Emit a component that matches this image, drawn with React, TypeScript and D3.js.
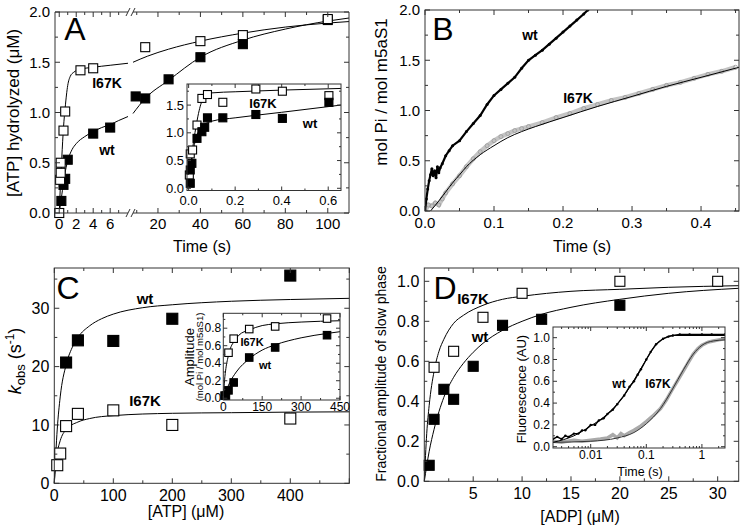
import React from "react";
import * as d3 from "d3";

const FONT = "'Liberation Sans', Arial, Helvetica, sans-serif";
const AX = "#333";

// ---------------- Panel A (main) ----------------
const aI67KTime = [0, 0.1, 0.17, 0.17, 0.5, 0.7, 2.5, 4, 14, 40, 60, 100];
const aI67KVal = [0, 0.33, 0.4, 0.5, 0.82, 1.01, 1.42, 1.44, 1.65, 1.71, 1.77, 1.93];
const aWtTime = [0.25, 0.5, 0.7, 1, 4, 6, 9.5, 14, 25, 40, 60, 100];
const aWtVal = [0.12, 0.28, 0.34, 0.53, 0.79, 0.85, 1.16, 1.14, 1.33, 1.55, 1.68, 1.92];
const aFitI67KEarly = [[0, 0], [0.15, 0.3], [0.3, 0.55], [0.5, 0.85], [0.7, 1.05], [1, 1.27], [1.3, 1.36], [1.7, 1.40], [2.5, 1.43], [4, 1.45], [6, 1.47], [8.1, 1.49]];
const aFitI67KLate = [[8.24, 1.5], [15, 1.56], [25, 1.63], [40, 1.71], [60, 1.79], [80, 1.85], [100, 1.89], [110, 1.905]];
const aFitWtEarly = [[0, 0], [0.3, 0.18], [0.6, 0.36], [1, 0.52], [1.5, 0.63], [2, 0.69], [3, 0.76], [4, 0.81], [5, 0.85], [6, 0.88], [7, 0.92], [8.1, 0.96]];
const aFitWtLate = [[8.24, 0.99], [14, 1.14], [25, 1.32], [40, 1.55], [60, 1.72], [80, 1.83], [100, 1.91], [110, 1.94]];

// Panel A inset
const aiI67KTime = [0.003, 0.007, 0.017, 0.036, 0.057, 0.081, 0.147, 0.289, 0.403, 0.603];
const aiI67KVal = [0.24, 0.62, 0.69, 1.14, 1.62, 1.69, 1.55, 1.79, 1.75, 1.67];
const aiWtTime = [0.007, 0.007, 0.014, 0.036, 0.057, 0.069, 0.081, 0.147, 0.289, 0.403, 0.603];
const aiWtVal = [0.09, 0.33, 0.45, 0.9, 1.02, 1.1, 1.27, 1.27, 1.33, 1.26, 1.55];
const aiFitI67K = [[0, 0], [0.01, 0.45], [0.02, 0.8], [0.03, 1.07], [0.04, 1.3], [0.05, 1.48], [0.06, 1.6], [0.07, 1.67], [0.08, 1.7], [0.1, 1.72], [0.2, 1.74], [0.4, 1.77], [0.655, 1.8]];
const aiFitWt = [[0, 0], [0.01, 0.38], [0.02, 0.68], [0.03, 0.88], [0.04, 1.0], [0.05, 1.08], [0.06, 1.13], [0.08, 1.18], [0.1, 1.21], [0.2, 1.27], [0.4, 1.37], [0.655, 1.5]];

// ---------------- Panel B ----------------
const bWtTime = [0, 0.002, 0.004, 0.006, 0.008, 0.01, 0.012, 0.014, 0.016, 0.018, 0.02, 0.022, 0.025, 0.03, 0.035, 0.04, 0.05, 0.06, 0.07, 0.08, 0.09, 0.1, 0.11, 0.12, 0.13, 0.14, 0.15, 0.16, 0.17, 0.18, 0.19, 0.2, 0.21, 0.22, 0.23, 0.236];
const bWtVal = [0, 0.12, 0.22, 0.3, 0.36, 0.42, 0.35, 0.4, 0.33, 0.44, 0.38, 0.43, 0.47, 0.55, 0.6, 0.65, 0.7, 0.79, 0.87, 0.95, 1.06, 1.15, 1.21, 1.27, 1.33, 1.42, 1.5, 1.55, 1.6, 1.66, 1.72, 1.78, 1.84, 1.9, 1.96, 2.0];
const bI67KTime = [0, 0.005, 0.01, 0.015, 0.02, 0.025, 0.03, 0.04, 0.05, 0.06, 0.07, 0.08, 0.09, 0.1, 0.11, 0.12, 0.13, 0.14, 0.15, 0.17, 0.19, 0.21, 0.23, 0.25, 0.27, 0.29, 0.31, 0.33, 0.35, 0.37, 0.39, 0.41, 0.43, 0.45];
const bI67KVal = [0, 0.06, 0.05, 0.08, 0.06, 0.12, 0.18, 0.27, 0.35, 0.44, 0.52, 0.59, 0.65, 0.7, 0.74, 0.77, 0.8, 0.82, 0.84, 0.88, 0.93, 0.97, 1.02, 1.06, 1.1, 1.13, 1.17, 1.21, 1.25, 1.28, 1.32, 1.36, 1.39, 1.43];
const bFitI67K = [[0.008, 0], [0.02, 0.1], [0.03, 0.19], [0.04, 0.28], [0.05, 0.36], [0.06, 0.44], [0.08, 0.56], [0.1, 0.65], [0.12, 0.73], [0.14, 0.79], [0.16, 0.84], [0.2, 0.93], [0.25, 1.04], [0.3, 1.14], [0.35, 1.24], [0.4, 1.33], [0.455, 1.43]];

// ---------------- Panel C ----------------
const cAtp = [5, 10, 20, 40, 100, 200, 400];
const cWtAtp = [20, 40, 100, 200, 400];
const cWtK = [20.7, 24.5, 24.4, 28.2, 35.6];
const cI67KK = [3.1, 5.1, 9.8, 11.9, 12.5, 10.0, 11.1];
const cFitWt = [[0, 0], [5, 9.3], [10, 14.8], [20, 20.3], [30, 23.2], [40, 25], [60, 27], [80, 28.2], [100, 29], [150, 30.1], [200, 30.6], [300, 31.2], [400, 31.5], [500, 31.7]];
const cFitI67K = [[0, 0], [2, 2.8], [5, 5.2], [10, 7.3], [20, 9.2], [40, 10.5], [60, 11.1], [100, 11.6], [200, 12.0], [300, 12.1], [400, 12.2], [500, 12.25]];
// inset
const ciAtp = [5, 10, 20, 40, 100, 200, 400];
const ciWtAmp = [0.03, 0.03, 0.09, 0.18, 0.465, 0.58, 0.72];
const ciI67KAtp = [20, 40, 100, 200, 400];
const ciI67KAmp = [0.52, 0.68, 0.79, 0.82, 0.91];
const ciFitI67K = [[0, 0], [5, 0.21], [10, 0.34], [20, 0.49], [30, 0.59], [40, 0.64], [60, 0.72], [100, 0.78], [150, 0.83], [200, 0.85], [300, 0.87], [450, 0.885]];
const ciFitWt = [[0, 0], [10, 0.08], [25, 0.18], [50, 0.3], [100, 0.45], [150, 0.55], [200, 0.61], [300, 0.69], [400, 0.74], [450, 0.76]];

// ---------------- Panel D ----------------
const dI67KAdp = [1, 3, 6, 10, 20, 30];
const dI67KFrac = [0.57, 0.65, 0.82, 0.94, 1.0, 1.0];
const dWtAdp = [0.5, 1, 2, 3, 5, 8, 12, 20];
const dWtFrac = [0.08, 0.31, 0.46, 0.41, 0.575, 0.78, 0.81, 0.88];
const dFitI67K = [[0, 0], [0.25, 0.24], [0.5, 0.38], [1, 0.55], [1.5, 0.65], [2, 0.71], [3, 0.79], [4, 0.83], [6, 0.88], [8, 0.91], [10, 0.925], [15, 0.95], [20, 0.96], [25, 0.97], [32.15, 0.978]];
const dFitWt = [[0, 0], [0.5, 0.15], [1, 0.26], [2, 0.42], [3, 0.52], [4, 0.59], [5, 0.645], [6, 0.69], [8, 0.755], [10, 0.8], [12, 0.835], [15, 0.87], [20, 0.91], [25, 0.94], [32.15, 0.965]];
// inset (log time)
const diWtTime = [0.0021, 0.0025, 0.003, 0.0035, 0.004, 0.005, 0.006, 0.007, 0.008, 0.01, 0.012, 0.014, 0.017, 0.02, 0.025, 0.03, 0.04, 0.05, 0.06, 0.07, 0.08, 0.1, 0.12, 0.15, 0.2, 0.25, 0.3, 0.4, 0.6, 1, 1.5, 2.6];
const diWtVal = [0.07, 0.09, 0.07, 0.1, 0.09, 0.12, 0.12, 0.15, 0.15, 0.2, 0.2, 0.24, 0.26, 0.3, 0.34, 0.39, 0.47, 0.55, 0.6, 0.66, 0.71, 0.8, 0.87, 0.94, 0.99, 1.01, 1.02, 1.03, 1.03, 1.03, 1.03, 1.03];
const diI67KTime = [0.0021, 0.003, 0.005, 0.007, 0.01, 0.015, 0.02, 0.025, 0.03, 0.035, 0.04, 0.05, 0.06, 0.08, 0.1, 0.13, 0.18, 0.23, 0.29, 0.37, 0.47, 0.58, 0.7, 0.85, 1, 1.3, 1.6, 2, 2.6];
const diI67KVal = [0.05, 0.04, 0.06, 0.05, 0.06, 0.07, 0.08, 0.11, 0.08, 0.12, 0.1, 0.13, 0.15, 0.19, 0.23, 0.28, 0.35, 0.43, 0.52, 0.61, 0.7, 0.78, 0.85, 0.9, 0.93, 0.96, 0.97, 0.98, 0.99];
const diFitWt = [[0.0021, 0.04], [0.005, 0.1], [0.01, 0.19], [0.02, 0.3], [0.04, 0.47], [0.06, 0.61], [0.1, 0.8], [0.15, 0.94], [0.2, 0.99], [0.3, 1.02], [2.6, 1.02]];
const diFitI67K = [[0.0021, 0.04], [0.01, 0.05], [0.03, 0.08], [0.06, 0.13], [0.1, 0.21], [0.18, 0.35], [0.29, 0.52], [0.47, 0.71], [0.7, 0.85], [1, 0.93], [1.6, 0.97], [2.6, 0.98]];

const range = (a: number, b: number, s: number) => d3.range(a, b + s / 1000, s).map((v) => +v.toFixed(6));

function Frame(p: any) {
  const { xs, ys, xMajor = [], xMinor = [], yMajor = [], yMinor = [], fs = 14, tl = 5, tm = 3, xPad = 15, yPad = 5,
    xFmt = (v: number) => String(v), yFmt = (v: number) => String(v), id } = p;
  const [xl, xr] = xs.range();
  const [yb, yt] = ys.range();
  const out: any[] = [];
  out.push(<rect key="fr" x={xl} y={yt} width={xr - xl} height={yb - yt} fill="none" stroke={AX} strokeWidth={1} />);
  const vt = (v: number, len: number, k: string) => {
    const x = xs(v);
    out.push(<line key={k + "b"} x1={x} x2={x} y1={yb} y2={yb - len} stroke={AX} />);
    out.push(<line key={k + "t"} x1={x} x2={x} y1={yt} y2={yt + len} stroke={AX} />);
  };
  const ht = (v: number, len: number, k: string) => {
    const y = ys(v);
    out.push(<line key={k + "l"} x1={xl} x2={xl + len} y1={y} y2={y} stroke={AX} />);
    out.push(<line key={k + "r"} x1={xr} x2={xr - len} y1={y} y2={y} stroke={AX} />);
  };
  xMajor.forEach((v: number, i: number) => {
    vt(v, tl, id + "xM" + i);
    if (p.xLabels !== false && !(p.xSkip || []).includes(v))
      out.push(<text key={id + "xl" + i} x={xs(v)} y={yb + xPad} fontSize={fs} textAnchor="middle" fill="#000">{xFmt(v)}</text>);
  });
  xMinor.forEach((v: number, i: number) => vt(v, tm, id + "xm" + i));
  yMajor.forEach((v: number, i: number) => {
    ht(v, tl, id + "yM" + i);
    out.push(<text key={id + "yl" + i} x={xl - yPad} y={ys(v)} dy="0.35em" fontSize={fs} textAnchor="end" fill="#000">{yFmt(v)}</text>);
  });
  yMinor.forEach((v: number, i: number) => ht(v, tm, id + "ym" + i));
  return <g>{out}</g>;
}

const sq = (cx: number, cy: number, s: number, filled: boolean, key: string) => (
  <rect key={key} x={cx - s / 2} y={cy - s / 2} width={s} height={s} fill={filled ? "#000" : "#fff"} stroke="#000" strokeWidth={1.1} />
);

const pathOf = (pts: number[][], xs: any, ys: any, curve: any = d3.curveMonotoneX) =>
  d3.line<number[]>().x((d) => xs(d[0])).y((d) => ys(d[1])).curve(curve)(pts) as string;

const f1 = (v: number) => v.toFixed(1);

function PanelA() {
  const x1 = d3.scaleLinear().domain([-0.5, 8.1]).range([55, 128]);
  const x2 = d3.scaleLinear().domain([8.24, 110]).range([133, 349]);
  const y = d3.scaleLinear().domain([0, 2]).range([213, 12]);
  const xOf = (t: number) => (t <= 8.1 ? x1(t) : x2(t));
  const out: any[] = [];
  out.push(<line key="l" x1={55} x2={55} y1={12} y2={213} stroke={AX} />);
  out.push(<line key="r" x1={349} x2={349} y1={12} y2={213} stroke={AX} />);
  [12, 213].forEach((yy, j) => {
    out.push(<line key={"s1" + j} x1={55} x2={128} y1={yy} y2={yy} stroke={AX} />);
    out.push(<line key={"s2" + j} x1={133} x2={349} y1={yy} y2={yy} stroke={AX} />);
    [128, 133].forEach((bx, k) => out.push(<line key={"bk" + j + k} x1={bx - 2} x2={bx + 2} y1={yy + 4} y2={yy - 4} stroke={AX} />));
  });
  const vt = (xx: number, len: number, k: string) => {
    out.push(<line key={k + "b"} x1={xx} x2={xx} y1={213} y2={213 - len} stroke={AX} />);
    out.push(<line key={k + "t"} x1={xx} x2={xx} y1={12} y2={12 + len} stroke={AX} />);
  };
  [0, 2, 4, 6].forEach((v, i) => { vt(x1(v), 5, "a1M" + i); out.push(<text key={"a1l" + i} x={x1(v)} y={229} fontSize={15} textAnchor="middle">{v}</text>); });
  [1, 3, 5, 7].forEach((v, i) => vt(x1(v), 3, "a1m" + i));
  [20, 40, 60, 80, 100].forEach((v, i) => { vt(x2(v), 5, "a2M" + i); out.push(<text key={"a2l" + i} x={x2(v)} y={229} fontSize={15} textAnchor="middle">{v}</text>); });
  [10, 30, 50, 70, 90].forEach((v, i) => vt(x2(v), 3, "a2m" + i));
  const ht = (v: number, len: number, k: string) => {
    out.push(<line key={k + "l"} x1={55} x2={55 + len} y1={y(v)} y2={y(v)} stroke={AX} />);
    out.push(<line key={k + "r"} x1={349} x2={349 - len} y1={y(v)} y2={y(v)} stroke={AX} />);
  };
  range(0, 2, 0.5).forEach((v, i) => { ht(v, 5, "ayM" + i); out.push(<text key={"ayl" + i} x={50} y={y(v)} dy="0.35em" fontSize={15} textAnchor="end">{f1(v)}</text>); });
  range(0.25, 1.75, 0.5).forEach((v, i) => ht(v, 3, "aym" + i));

  const curves = [
    [aFitI67KEarly, x1], [aFitI67KLate, x2], [aFitWtEarly, x1], [aFitWtLate, x2],
  ].map(([pts, xs]: any, i) => <path key={"ac" + i} d={pathOf(pts, xs, y)} fill="none" stroke="#000" strokeWidth={1} />);

  const xi = d3.scaleLinear().domain([-0.007, 0.655]).range([187, 341]);
  const yi = d3.scaleLinear().domain([-0.04, 1.88]).range([190.5, 84]);

  return (
    <g>
      {curves}
      {aWtTime.map((t, i) => sq(xOf(t), y(aWtVal[i]), 9, true, "awf" + i))}
      {aI67KTime.map((t, i) => sq(xOf(t), y(aI67KVal[i]), 9, false, "aio" + i))}
      {out}
      <text x={75} y={40} fontSize={32} textAnchor="middle">A</text>
      <text x={107} y={88} fontSize={14} fontWeight="bold" textAnchor="middle">I67K</text>
      <text x={107} y={155} fontSize={14} fontWeight="bold" textAnchor="middle">wt</text>
      <text x={202} y={252} fontSize={16} textAnchor="middle">Time (s)</text>
      <text transform="translate(19,113) rotate(-90)" fontSize={17} textAnchor="middle">[ATP] hydrolyzed (μM)</text>
      <rect x={187} y={84} width={154} height={106.5} fill="#fff" />
      <path d={pathOf(aiFitI67K, xi, yi)} fill="none" stroke="#000" strokeWidth={1} />
      <path d={pathOf(aiFitWt, xi, yi)} fill="none" stroke="#000" strokeWidth={1} />
      {aiI67KTime.map((t, i) => sq(xi(t), yi(aiI67KVal[i]), 8, false, "aiio" + i))}
      {aiWtTime.map((t, i) => sq(xi(t), yi(aiWtVal[i]), 8, true, "aiwf" + i))}
      <Frame id="ai" xs={xi} ys={yi} xMajor={[0, 0.2, 0.4, 0.6]} xMinor={[0.1, 0.3, 0.5]} yMajor={[0, 0.5, 1, 1.5]} yMinor={[0.25, 0.75, 1.25, 1.75]}
        fs={13} tl={4} tm={2} xPad={14} yPad={3} xFmt={f1} yFmt={f1} />
      <text x={263} y={108} fontSize={13} fontWeight="bold" textAnchor="middle">I67K</text>
      <text x={310} y={128} fontSize={13} fontWeight="bold" textAnchor="middle">wt</text>
    </g>
  );
}

function PanelB() {
  const x = d3.scaleLinear().domain([0, 0.455]).range([425, 739]);
  const y = d3.scaleLinear().domain([0, 2]).range([211, 10]);
  return (
    <g>
      <defs>
        <clipPath id="clipB"><rect x={425} y={10} width={314} height={201} /></clipPath>
      </defs>
      <g clipPath="url(#clipB)">
        <path d={pathOf(bI67KTime.map((t, i) => [t, bI67KVal[i]]), x, y, d3.curveLinear)} fill="none" stroke="#c4c4c4" strokeWidth={4.5} />
        {bI67KTime.map((t, i) => <circle key={"bi" + i} cx={x(t)} cy={y(bI67KVal[i])} r={2} fill="none" stroke="#999" strokeWidth={0.8} />)}
        <path d={pathOf(bFitI67K, x, y)} fill="none" stroke="#000" strokeWidth={1} />
        <path d={pathOf(bWtTime.map((t, i) => [t, bWtVal[i]]), x, y, d3.curveLinear)} fill="none" stroke="#000" strokeWidth={2.2} />
        {bWtTime.map((t, i) => <circle key={"bw" + i} cx={x(t)} cy={y(bWtVal[i])} r={1.5} fill="#000" />)}
      </g>
      <Frame id="b" xs={x} ys={y} xMajor={range(0, 0.4, 0.1)} xMinor={range(0.05, 0.45, 0.1)} yMajor={range(0, 2, 0.5)} yMinor={range(0.25, 1.75, 0.5)}
        fs={15} xPad={17} yPad={5} xFmt={f1} yFmt={f1} />
      <text x={443} y={40} fontSize={32} textAnchor="middle">B</text>
      <text x={530} y={40} fontSize={14} fontWeight="bold" textAnchor="middle">wt</text>
      <text x={578} y={103} fontSize={14} fontWeight="bold" textAnchor="middle">I67K</text>
      <text x={582} y={252} fontSize={16} textAnchor="middle">Time (s)</text>
      <text transform="translate(387,92) rotate(-90)" fontSize={17} textAnchor="middle">mol Pi / mol m5aS1</text>
    </g>
  );
}

function PanelC() {
  const x = d3.scaleLinear().domain([0, 500]).range([54.3, 349.3]);
  const y = d3.scaleLinear().domain([0, 36.9]).range([483.3, 268]);
  const xi = d3.scaleLinear().domain([0, 450]).range([223.3, 340]);
  const yi = d3.scaleLinear().domain([-0.02, 0.97]).range([400, 313.3]);
  return (
    <g>
      <path d={pathOf(cFitWt, x, y)} fill="none" stroke="#000" strokeWidth={1} />
      <path d={pathOf(cFitI67K, x, y)} fill="none" stroke="#000" strokeWidth={1} />
      {cAtp.map((a, i) => sq(x(a), y(cI67KK[i]), 11, false, "co" + i))}
      {cWtAtp.map((a, i) => sq(x(a), y(cWtK[i]), 11, true, "cf" + i))}
      <Frame id="c" xs={x} ys={y} xMajor={[0, 100, 200, 300, 400, 500]} xSkip={[500]} xMinor={[50, 150, 250, 350, 450]} yMajor={[0, 10, 20, 30]} yMinor={[5, 15, 25, 35]}
        fs={16} xPad={18} yPad={5} />
      <text x={68} y={299} fontSize={32} textAnchor="middle">C</text>
      <text x={145} y={304} fontSize={15} fontWeight="bold" textAnchor="middle">wt</text>
      <text x={145} y={406} fontSize={15} fontWeight="bold" textAnchor="middle">I67K</text>
      <text x={186} y={517} fontSize={16} textAnchor="middle">[ATP] (μM)</text>
      <text transform="translate(21,361) rotate(-90)" fontSize={18} textAnchor="middle">
        <tspan fontStyle="italic">k</tspan><tspan fontSize={13} dy={4}>obs</tspan><tspan dy={-4}> (s</tspan><tspan fontSize={12} dy={-7}>-1</tspan><tspan dy={7}>)</tspan>
      </text>
      <rect x={223.3} y={313.3} width={116.7} height={86.7} fill="#fff" />
      <path d={pathOf(ciFitI67K, xi, yi)} fill="none" stroke="#000" strokeWidth={1} />
      <path d={pathOf(ciFitWt, xi, yi)} fill="none" stroke="#000" strokeWidth={1} />
      {ciI67KAtp.map((a, i) => sq(xi(a), yi(ciI67KAmp[i]), 7.5, false, "cio" + i))}
      {ciAtp.map((a, i) => sq(xi(a), yi(ciWtAmp[i]), 7.5, true, "cif" + i))}
      <Frame id="ci" xs={xi} ys={yi} xMajor={[0, 150, 300, 450]} xMinor={[75, 225, 375]} yMajor={range(0, 0.8, 0.2)} yMinor={range(0.1, 0.9, 0.2)}
        fs={12} tl={4} tm={2} xPad={11} yPad={2} yFmt={f1} />
      <text x={252} y={346} fontSize={11} fontWeight="bold" textAnchor="middle">I67K</text>
      <text x={265} y={369} fontSize={11} fontWeight="bold" textAnchor="middle">wt</text>
      <text transform="translate(194,357) rotate(-90)" fontSize={13} textAnchor="middle">Amplitude</text>
      <text transform="translate(203,357) rotate(-90)" fontSize={9.5} textAnchor="middle">(mol Pi / mol m5aS1)</text>
    </g>
  );
}

function PanelD() {
  const x = d3.scaleLinear().domain([0, 32.15]).range([424.3, 738.7]);
  const y = d3.scaleLinear().domain([0, 1.0665]).range([481.3, 268]);
  const xi = d3.scaleLog().domain([0.0021, 2.6]).range([553, 725]);
  const yi = d3.scaleLinear().domain([-0.012, 1.098]).range([448, 327]);
  const logMinor: number[] = [];
  [0.001, 0.01, 0.1, 1].forEach((d) => d3.range(2, 10).forEach((m) => { const v = +(d * m).toPrecision(3); if (v >= 0.0021 && v <= 2.6) logMinor.push(v); }));
  return (
    <g>
      <path d={pathOf(dFitI67K, x, y)} fill="none" stroke="#000" strokeWidth={1} />
      <path d={pathOf(dFitWt, x, y)} fill="none" stroke="#000" strokeWidth={1} />
      {dI67KAdp.map((a, i) => sq(x(a), y(dI67KFrac[i]), 10, false, "do" + i))}
      {dWtAdp.map((a, i) => sq(x(a), y(dWtFrac[i]), 10, true, "df" + i))}
      <Frame id="d" xs={x} ys={y} xMajor={[5, 10, 15, 20, 25, 30]} xMinor={[2.5, 7.5, 12.5, 17.5, 22.5, 27.5]} yMajor={range(0, 1, 0.2)} yMinor={range(0.1, 0.9, 0.2)}
        fs={16} xPad={18} yPad={5} yFmt={f1} />
      <text x={445} y={299} fontSize={32} textAnchor="middle">D</text>
      <text x={473} y={304} fontSize={15} fontWeight="bold" textAnchor="middle">I67K</text>
      <text x={480} y={342} fontSize={15} fontWeight="bold" textAnchor="middle">wt</text>
      <text x={580} y={522} fontSize={16} textAnchor="middle">[ADP] (μM)</text>
      <text transform="translate(386,374) rotate(-90)" fontSize={14} textAnchor="middle">Fractional amplitude of slow phase</text>
      <rect x={553} y={327} width={172} height={121} fill="#fff" />
      <defs><clipPath id="clipDi"><rect x={553} y={327} width={172} height={121} /></clipPath></defs>
      <g clipPath="url(#clipDi)">
        <path d={pathOf(diI67KTime.map((t, i) => [t, diI67KVal[i]]), xi, yi, d3.curveLinear)} fill="none" stroke="#aaa" strokeWidth={3.5} />
        <path d={pathOf(diFitI67K, xi, yi)} fill="none" stroke="#333" strokeWidth={1} />
        <path d={pathOf(diWtTime.map((t, i) => [t, diWtVal[i]]), xi, yi, d3.curveLinear)} fill="none" stroke="#000" strokeWidth={1.4} />
        {diWtTime.map((t, i) => <circle key={"dw" + i} cx={xi(t)} cy={yi(diWtVal[i])} r={1.2} fill="#000" />)}
        <path d={pathOf(diFitWt, xi, yi)} fill="none" stroke="#000" strokeWidth={1} />
      </g>
      <Frame id="di" xs={xi} ys={yi} xMajor={[0.01, 0.1, 1]} xMinor={logMinor} yMajor={range(0, 1, 0.2)} yMinor={range(0.1, 0.9, 0.2)}
        fs={12} tl={4} tm={2} xPad={11} yPad={3} yFmt={f1} />
      <text x={619} y={388} fontSize={12} fontWeight="bold" textAnchor="middle">wt</text>
      <text x={658} y={388} fontSize={12} fontWeight="bold" textAnchor="middle">I67K</text>
      <text x={640} y={476} fontSize={12.5} textAnchor="middle">Time (s)</text>
      <text transform="translate(526,389) rotate(-90)" fontSize={13} textAnchor="middle">Fluorescence (AU)</text>
    </g>
  );
}

export default function App() {
  return (
    <svg width={742} height={529} style={{ position: "absolute", left: 0, top: 0, background: "#fff" }} fontFamily={FONT}>
      <rect width={742} height={529} fill="#fff" />
      <PanelA />
      <PanelB />
      <PanelC />
      <PanelD />
    </svg>
  );
}
